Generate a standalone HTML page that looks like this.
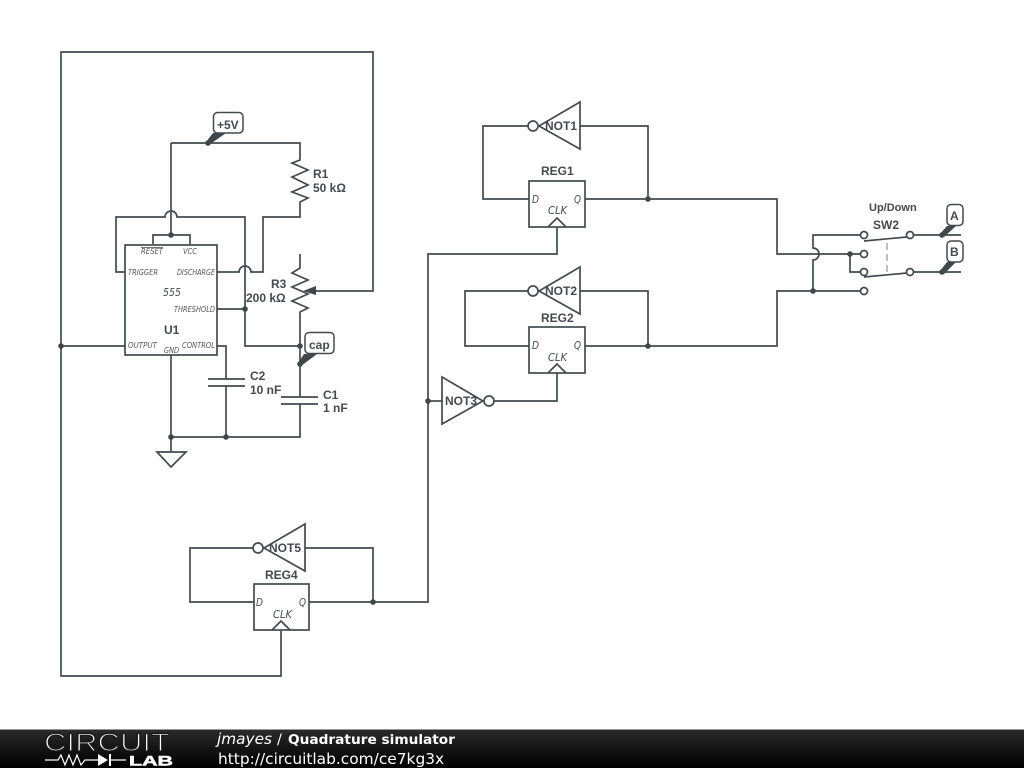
<!DOCTYPE html>
<html><head><meta charset="utf-8"><title>Quadrature simulator</title>
<style>
html,body{margin:0;padding:0;background:#fff;width:1024px;height:768px;overflow:hidden}
svg{display:block}
.w{fill:none;stroke:#434b4f;stroke-width:1.7;stroke-linejoin:miter}
.d{fill:#3f474b;stroke:none}
.l{font:bold 12px "Liberation Sans",sans-serif;fill:#444a4e}
.p{font:italic 8px "DejaVu Sans",sans-serif;fill:#555}
.q{font:italic 10.500px "DejaVu Sans",sans-serif;fill:#444a4e}
.b{fill:#fff;stroke:#434b4f;stroke-width:1.5}
.f{font-family:"DejaVu Sans",sans-serif;fill:#fff}
</style></head><body>
<svg width="1024" height="768" viewBox="0 0 1024 768" xmlns="http://www.w3.org/2000/svg">
<rect width="1024" height="768" fill="#fff"/>
<g class="w">
<!-- outer loop -->
<path d="M125 346H61V52H373V291H310"/>
<path d="M61 346V676H281V631"/>
<!-- 555 -->
<rect x="125" y="245" width="92" height="110"/>
<path d="M171 143H300V160L292 163L308 170L292 177L308 185L292 192L308 198L300 202V217H263V272H251A6 6 0 0 0 239 272H217"/>
<path d="M171 143V235M153 244V235H190V244"/>
<path d="M125 272H116V217H165A6 6 0 0 1 177 217H245V346H300M217 309H245"/>
<path d="M300 254V268L292 273L308 280L292 287L308 294L292 301L308 308L300 312V397"/>
<path d="M300 404V437H171M171 355V452"/>
<path d="M217 346H226V379M226 386V437"/>
<path d="M208 379H245M208 386H245M281 397H318M281 404H318"/>
<path d="M157 452H186L171 467Z"/>
<!-- NOT1/REG1 -->
<path d="M580 102V149L539 126Z"/>
<circle cx="533" cy="126" r="5"/>
<path d="M528 126H483V199H529M580 126H648V199"/>
<rect x="529" y="181" width="56" height="46"/>
<path d="M548 227L557 218L566 227M557 227V254H428V602H309"/>
<path d="M585 199H777V254H815"/>
<!-- NOT2/REG2 -->
<path d="M580 267V314L539 291Z"/>
<circle cx="533" cy="291" r="5"/>
<path d="M528 291H465V346H529M580 291H648V346"/>
<rect x="529" y="327" width="56" height="46"/>
<path d="M548 373L557 364L566 373M557 373V401H494"/>
<path d="M585 346H777V291H860"/>
<!-- NOT3 -->
<path d="M442 377V424L483 401Z"/>
<circle cx="489" cy="401" r="5"/>
<path d="M428 401H442"/>
<!-- NOT5/REG4 -->
<path d="M305 524V571L264 548Z"/>
<circle cx="258" cy="548" r="5"/>
<path d="M253 548H190V602H254M305 548H373V602"/>
<rect x="254" y="584" width="55" height="46"/>
<path d="M272 630L281 621L290 630"/>
<!-- switch -->
<path d="M860 235H813V248A6 6 0 0 1 813 260V291"/>
<path d="M815 254H860M850 254V272H860"/>
<circle cx="864" cy="235" r="3.5"/><circle cx="864" cy="254" r="3.5"/><circle cx="864" cy="272" r="3.5"/><circle cx="864" cy="291" r="3.500"/>
<circle cx="910" cy="235" r="3.5"/><circle cx="910" cy="272" r="3.5"/>
<path d="M864 241L907 237M864 277L907 273"/>
<path d="M914 235H961M914 272H961"/>
</g>
<path d="M887 243V272" fill="none" stroke="#aaa" stroke-width="1.5" stroke-dasharray="7 4"/>
<path class="d" d="M303 291L316 286V295Z"/>
<g class="d">
<circle cx="171" cy="235" r="2.800"/><circle cx="245" cy="309" r="2.8"/><circle cx="300" cy="346" r="2.8"/><circle cx="171" cy="437" r="2.8"/><circle cx="226" cy="437" r="2.8"/><circle cx="61" cy="346" r="2.8"/>
<circle cx="648" cy="199" r="2.800"/><circle cx="648" cy="346" r="2.8"/><circle cx="428" cy="401" r="2.8"/><circle cx="373" cy="602" r="2.8"/><circle cx="813" cy="291" r="2.8"/><circle cx="850" cy="254" r="2.8"/>
<circle cx="208" cy="143" r="2.800"/><circle cx="300" cy="364" r="2.8"/><circle cx="942" cy="235" r="2.8"/><circle cx="942" cy="272" r="2.8"/>
<path d="M206 142L213 133H226L209 145Z"/>
<path d="M298 363L304 354H317L301 366Z"/>
<path d="M940 234L947 226H956L944 237Z"/>
<path d="M940 271L947 262H956L944 274Z"/>
</g>
<rect class="b" x="213.500" y="112.500" width="29.500" height="20.500" rx="4"/>
<rect class="b" x="305" y="332.500" width="29" height="21" rx="4"/>
<rect class="b" x="947" y="204.500" width="16" height="21" rx="4"/>
<rect class="b" x="947" y="241" width="16" height="21" rx="4"/>
<!-- labels -->
<g class="l">
<text x="217" y="129">+5V</text><text x="309" y="349">cap</text>
<text x="313" y="178">R1</text><text x="313" y="192">50 kΩ</text>
<text x="271" y="288">R3</text><text x="246" y="302">200 kΩ</text>
<text x="250" y="380">C2</text><text x="250" y="394">10 nF</text>
<text x="323" y="399">C1</text><text x="323" y="412">1 nF</text>
<text x="164" y="334">U1</text>
<text x="541" y="175">REG1</text><text x="541" y="322">REG2</text><text x="265" y="579">REG4</text>
<text x="545" y="130">NOT1</text><text x="545" y="295">NOT2</text><text x="445" y="405">NOT3</text><text x="269" y="552">NOT5</text>
<text x="869" y="211" style="font-size:11px">Up/Down</text><text x="873" y="229">SW2</text>
<text x="950" y="220">A</text><text x="950" y="256">B</text>
</g>
<g class="p">
<text x="141" y="254" textLength="22" lengthAdjust="spacingAndGlyphs" text-decoration="overline">RESET</text>
<text x="183" y="254" textLength="14" lengthAdjust="spacingAndGlyphs">VCC</text>
<text x="128" y="275" textLength="30" lengthAdjust="spacingAndGlyphs">TRIGGER</text>
<text x="177" y="275" textLength="38" lengthAdjust="spacingAndGlyphs">DISCHARGE</text>
<text x="174" y="312" textLength="41" lengthAdjust="spacingAndGlyphs">THRESHOLD</text>
<text x="128" y="348" textLength="29" lengthAdjust="spacingAndGlyphs">OUTPUT</text>
<text x="164" y="353" textLength="15" lengthAdjust="spacingAndGlyphs">GND</text>
<text x="182" y="348" textLength="33" lengthAdjust="spacingAndGlyphs">CONTROL</text>
</g>
<g class="q">
<text x="163" y="296" textLength="18" lengthAdjust="spacingAndGlyphs">555</text>
<text x="532" y="203" textLength="7" lengthAdjust="spacingAndGlyphs">D</text><text x="574" y="203" textLength="7" lengthAdjust="spacingAndGlyphs">Q</text><text x="548" y="214" textLength="19" lengthAdjust="spacingAndGlyphs">CLK</text>
<text x="532" y="349" textLength="7" lengthAdjust="spacingAndGlyphs">D</text><text x="574" y="349" textLength="7" lengthAdjust="spacingAndGlyphs">Q</text><text x="548" y="361" textLength="19" lengthAdjust="spacingAndGlyphs">CLK</text>
<text x="256" y="606" textLength="7" lengthAdjust="spacingAndGlyphs">D</text><text x="299" y="606" textLength="7" lengthAdjust="spacingAndGlyphs">Q</text><text x="273" y="618" textLength="19" lengthAdjust="spacingAndGlyphs">CLK</text>
</g>
<!-- footer -->
<defs><linearGradient id="g" x1="0" y1="0" x2="0" y2="1"><stop offset="0" stop-color="#2c2c2c"/><stop offset=".5" stop-color="#141414"/><stop offset="1" stop-color="#000"/></linearGradient></defs>
<rect y="729" width="1024" height="39" fill="url(#g)"/>
<rect y="729" width="1024" height="1" fill="#999"/>
<text x="44" y="751" textLength="126" lengthAdjust="spacingAndGlyphs" font-family="Liberation Sans, sans-serif" font-size="25" fill="#fff" stroke="#1a1a1a" stroke-width="1.300">CIRCUIT</text>
<path d="M45 760H58L61 755L65 765L69 755L73 765L77 755L81 765L85 760H98M110 760H126" fill="none" stroke="#fff" stroke-width="1.200"/>
<path d="M98 754V766L108 760Z M109 754H111V766H109Z" fill="#fff"/>
<text x="129" y="765.500" textLength="44" lengthAdjust="spacingAndGlyphs" font-family="Liberation Sans, sans-serif" font-weight="bold" font-size="13.500" fill="#fff" stroke="#fff" stroke-width=".5">LAB</text>
<text class="f" x="217" y="744" font-size="15.300" font-style="italic">jmayes</text>
<text class="f" x="277" y="744" font-size="14.500">/</text>
<text class="f" x="288" y="744" font-size="13.700" font-weight="bold">Quadrature simulator</text>
<text class="f" x="218" y="764" font-size="15.400">http://circuitlab.com/ce7kg3x</text>
</svg>
</body></html>
